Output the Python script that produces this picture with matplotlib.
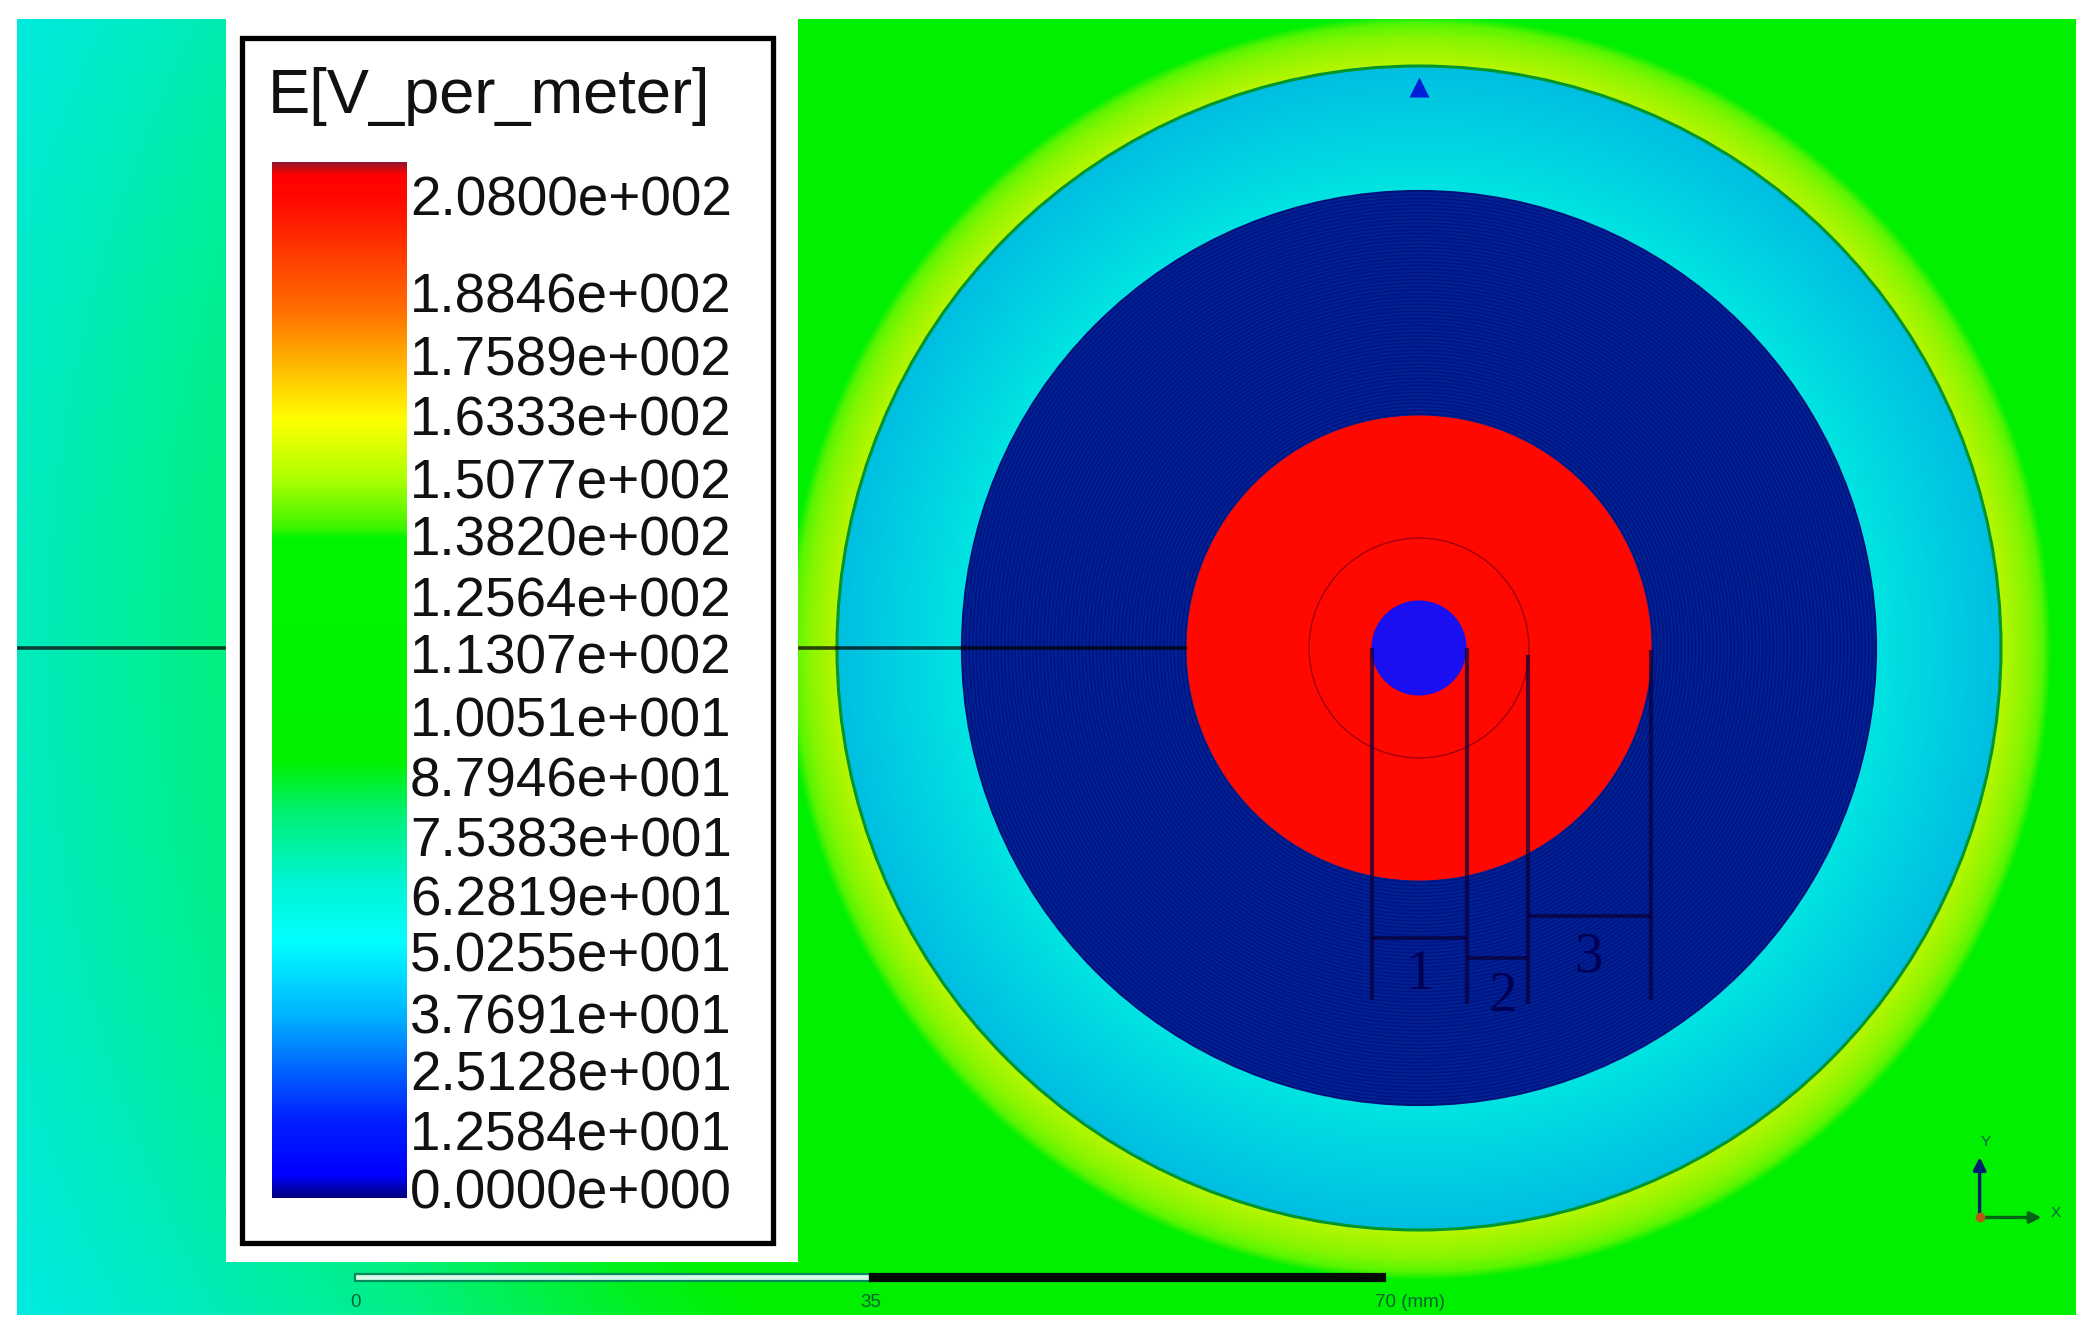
import numpy as np
import matplotlib
matplotlib.use("Agg")
import matplotlib.pyplot as plt
from matplotlib.colors import LinearSegmentedColormap
from matplotlib.patches import Circle, Rectangle

# ---- data ----
legend_title = "E[V_per_meter]"
legend_anchor = [208.9, 188.5, 175.3, 162.6, 149.4, 137.4, 124.7, 112.7,
                 99.4, 86.8, 74.2, 61.8, 50.0, 37.0, 25.0, 12.4, 0.0]
legend_labels = ["2.0800e+002", "1.8846e+002", "1.7589e+002", "1.6333e+002", "1.5077e+002",
                 "1.3820e+002", "1.2564e+002", "1.1307e+002", "1.0051e+001", "8.7946e+001",
                 "7.5383e+001", "6.2819e+001", "5.0255e+001", "3.7691e+001", "2.5128e+001",
                 "1.2584e+001", "0.0000e+000"]
legend_range = [-1.9, 216.0]
cmap_values = [-1.9, 2.8, 14, 25, 36.5, 52, 64.6, 78.6, 90, 137, 139, 149, 162, 174, 185, 208, 213.5, 216]
cmap_colors = [(0, 0, 130), (0, 0, 255), (0, 30, 255), (0, 100, 255), (0, 180, 255), (0, 255, 255),
               (0, 245, 210), (0, 240, 120), (0, 240, 0), (0, 245, 0), (60, 245, 0), (170, 255, 0),
               (255, 255, 0), (255, 180, 0), (255, 110, 0), (255, 10, 0), (255, 0, 0), (150, 20, 40)]

# region radii, mm
r_core, r_thin, r_red, r_dark, r_outer = 3.23, 7.47, 15.8, 31.06, 39.55
# field colour with distance from the axis
field_r = [31.06, 39.55, 39.56, 41.5, 42.4, 43.0, 63.5, 69, 81.5, 95, 105, 125]
field_colors = [(0, 228, 225), (0, 190, 225), (185, 245, 0), (135, 245, 0), (90, 245, 0), (0, 240, 0),
                (0, 240, 0), (0, 240, 30), (0, 240, 130), (0, 235, 190), (0, 235, 225), (0, 235, 225)]

# dimension marks, mm
dim_x = [-3.18, 3.27, 7.44, 15.8]
dim_top = [0, 0, -0.45, -0.15]
dim_bottom = [-23.9, -24.2, -24.2, -23.9]
bracket_y = [-19.7, -21.1, -18.2]
bracket_labels = ["1", "2", "3"]
bracket_label_x = [0.1, 5.7, 11.5]
bracket_label_y = [-22.2, -23.75, -21.05]

scale_ticks = [0, 35, 70]
scale_labels = ["0", "35", "70 (mm)"]
scale_label_x = [0, 35, 69.3]

# ---- layout ----
W, H = 2095, 1336
PX_MM = 14.715
CX, CY = 1419, 648
BG = (17, 19, 2076, 1315)
PANEL = (226, 19, 798, 1262)
FRAME = (242, 38, 773, 1243)
BAR = (272, 162, 407, 1198)
plt.rcParams["font.family"] = ["Liberation Sans", "DejaVu Sans"]


def fig_axes(fig, box, **kw):
    x0, y0, x1, y1 = box
    return fig.add_axes([x0 / W, 1 - y1 / H, (x1 - x0) / W, (y1 - y0) / H], **kw)


def rgb(c):
    return np.array(c) / 255


fig = plt.figure(figsize=(W / 100, H / 100), dpi=100, facecolor="white")

# ---- field view in mm ----
ax = fig_axes(fig, BG)
xlim = ((BG[0] - CX) / PX_MM, (BG[2] - CX) / PX_MM)
ylim = ((CY - BG[3]) / PX_MM, (CY - BG[1]) / PX_MM)
xs = np.linspace(*xlim, 2059)
ys = np.linspace(*ylim, 1296)
gx, gy = np.meshgrid(xs, ys)
gd = np.hypot(gx, gy)
fc = np.array(field_colors) / 255
img = np.dstack([np.interp(gd, field_r, fc[:, i]) for i in range(3)])
ax.imshow(img, origin="lower", extent=(*xlim, *ylim), aspect="auto", interpolation="bilinear", zorder=0)
ax.set_xlim(xlim)
ax.set_ylim(ylim)
ax.axis("off")

ax.add_patch(Circle((0, 0), r_outer, fill=False, ec=rgb((0, 150, 45)), lw=2.2, zorder=2))
ax.add_patch(Circle((0, 0), r_dark, fc=rgb((0, 32, 150)), ec=rgb((0, 20, 125)), lw=1.5, zorder=3))
for r in np.arange(r_red + 0.12, r_dark, 0.24):
    ax.add_patch(Circle((0, 0), r, fill=False, ec=rgb((0, 18, 120)), lw=0.8, zorder=3))
ax.add_patch(Circle((0, 0), r_red, fc=rgb((255, 8, 0)), ec="none", zorder=4))
ax.add_patch(Circle((0, 0), r_thin, fill=False, ec=rgb((160, 0, 15)), lw=1.0, zorder=5))
ax.add_patch(Circle((0, 0), r_core, fc=rgb((25, 15, 240)), ec="none", zorder=6))
ax.plot([xlim[0], -r_red], [0, 0], color="black", alpha=0.72, lw=2.6, zorder=5, solid_capstyle="butt")
ax.plot([0], [38.15], marker="^", ms=15, color=rgb((0, 30, 215)), mec="none", zorder=6)

# dimension marks
dim_color = rgb((10, 0, 60))
for x, t, b in zip(dim_x, dim_top, dim_bottom):
    ax.plot([x, x], [t, b], color=dim_color, alpha=0.72, lw=3.0, zorder=7, solid_capstyle="butt")
for i, y in enumerate(bracket_y):
    ax.plot([dim_x[i], dim_x[i + 1]], [y, y], color=dim_color, alpha=0.8, lw=2.6, zorder=7, solid_capstyle="butt")
for t, x, y in zip(bracket_labels, bracket_label_x, bracket_label_y):
    ax.text(x, y, t, family="Liberation Serif", fontsize=41, color=rgb((0, 0, 85)),
            ha="center", va="center", zorder=8)

# scale bar
sb_x0 = (355.4 - CX) / PX_MM
sb_y, sb_h = -42.8, 0.5
ax.add_patch(Rectangle((sb_x0 + scale_ticks[0], sb_y - sb_h / 2), scale_ticks[1] - scale_ticks[0], sb_h,
                       fc=rgb((215, 250, 235)), ec=rgb((0, 140, 90)), lw=1.6, zorder=6))
ax.add_patch(Rectangle((sb_x0 + scale_ticks[1], sb_y - sb_h / 2), scale_ticks[2] - scale_ticks[1], sb_h,
                       fc=rgb((0, 10, 0)), ec=rgb((0, 10, 0)), lw=1.6, zorder=6))
for i, (v, t) in enumerate(zip(scale_label_x, scale_labels)):
    ax.text(sb_x0 + v, -44.45, t, fontsize=13.5, color=rgb((0, 100, 50)), ha="left" if i == 2 else "center",
            va="center", zorder=6)

# triad
ox, oy = 38.1, -38.7
ax.annotate("", xy=(ox, -34.6), xytext=(ox, oy), zorder=7,
            arrowprops=dict(arrowstyle="-|>", color=rgb((0, 30, 110)), lw=2.4, mutation_scale=19, shrinkA=0, shrinkB=0))
ax.annotate("", xy=(42.3, oy), xytext=(ox, oy), zorder=7,
            arrowprops=dict(arrowstyle="-|>", color=rgb((0, 100, 20)), lw=2.4, mutation_scale=17, shrinkA=0, shrinkB=0))
ax.plot([ox], [oy], "o", ms=7, color=rgb((185, 90, 20)), mec="none", zorder=8)
ax.text(38.5, -33.6, "Y", fontsize=11, color=rgb((0, 100, 70)), ha="center", va="center", zorder=7)
ax.text(43.3, -38.4, "X", fontsize=11, color=rgb((0, 100, 70)), ha="center", va="center", zorder=7)

# ---- legend panel ----
pax = fig_axes(fig, PANEL)
pax.set_xlim(PANEL[0], PANEL[2])
pax.set_ylim(PANEL[3], PANEL[1])
pax.axis("off")
pax.add_patch(Rectangle((PANEL[0], PANEL[1]), PANEL[2] - PANEL[0], PANEL[3] - PANEL[1], fc="white", ec="none", zorder=0))
pax.add_patch(Rectangle((FRAME[0], FRAME[1]), FRAME[2] - FRAME[0], FRAME[3] - FRAME[1],
                        fill=False, ec="black", lw=3.8, zorder=1))
pax.text(268, 97, legend_title, fontsize=45.5, color="#111111", ha="left", va="center", zorder=2)

cax = fig_axes(fig, BAR)
cc = np.array(cmap_colors) / 255
lo, hi = legend_range
norm_v = [(v - lo) / (hi - lo) for v in cmap_values]
cmap = LinearSegmentedColormap.from_list("field", list(zip(norm_v, cc)), N=512)
grad = np.linspace(lo, hi, 512).reshape(-1, 1)
cax.imshow(grad, origin="lower", extent=(0, 1, lo, hi), aspect="auto", cmap=cmap, vmin=lo, vmax=hi)
cax.set_xticks([])
cax.yaxis.tick_right()
cax.set_yticks(legend_anchor, legend_labels, fontsize=39.5, color="#111111")
cax.tick_params(axis="y", length=0, pad=2)
for s in cax.spines.values():
    s.set_visible(False)

fig.savefig("out.png", dpi=100)
